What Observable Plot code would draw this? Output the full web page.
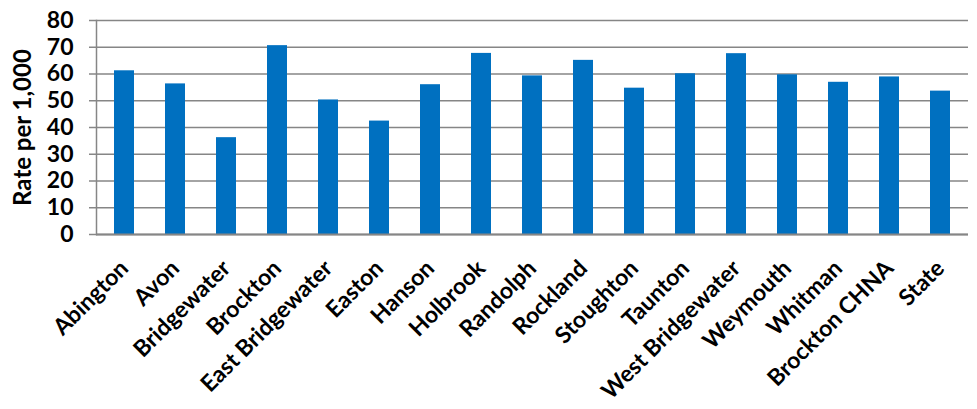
<!DOCTYPE html>
<html>
<head>
<meta charset="utf-8">
<script src="https://cdn.jsdelivr.net/npm/d3@7"></script>
<script src="https://cdn.jsdelivr.net/npm/@observablehq/plot@0.6"></script>
<style>
  html, body { margin: 0; padding: 0; background: #fff; }
  #chart svg { display: block; }
</style>
</head>
<body>
<div id="chart"></div>
<script>
const categories = ["Abington", "Avon", "Bridgewater", "Brockton", "East Bridgewater", "Easton", "Hanson", "Holbrook", "Randolph", "Rockland", "Stoughton", "Taunton", "West Bridgewater", "Weymouth", "Whitman", "Brockton CHNA", "State"];
const values = [61.2, 56.3, 36.2, 70.6, 50.3, 42.4, 56.0, 67.7, 59.3, 65.1, 54.7, 60.1, 67.6, 59.7, 56.9, 58.9, 53.6];
const yTicks = [0, 10, 20, 30, 40, 50, 60, 70, 80];
const yLabel = "Rate per 1,000";

const data = categories.map((c, i) => ({name: c, value: values[i]}));
const font = "Lato, 'Open Sans', sans-serif";

const chart = Plot.plot({
  width: 977,
  height: 409,
  marginLeft: 96,
  marginRight: 9,
  marginTop: 20,
  marginBottom: 175,
  style: {fontFamily: font, fontWeight: "bold", color: "#000", background: "#fff"},
  x: {domain: categories, paddingInner: 0.61, paddingOuter: 0.305, label: null},
  y: {domain: [0, 80], label: null},
  marks: [
    Plot.gridY(yTicks, {stroke: "#868686", strokeOpacity: 1, strokeWidth: 1.5}),
    Plot.barY(data, {x: "name", y: "value", fill: "#0070C0"}),
    Plot.ruleY([0], {stroke: "#868686", strokeWidth: 2}),
    Plot.frame({anchor: "left", stroke: "#868686", strokeWidth: 1.5}),
    Plot.axisY(yTicks, {tickSize: 7, stroke: "#868686", strokeWidth: 1.5, tickPadding: 16, fontSize: 23, fontWeight: "bold", fill: "#000", label: null}),
    Plot.axisX({tickSize: 0, tickRotate: -45, tickPadding: 30, fontSize: 23, fontWeight: "bold", fill: "#000", label: null}),
    Plot.text([yLabel], {frameAnchor: "left", textAnchor: "middle", rotate: -90, dx: -73, fontSize: 24, fontWeight: "bold", fill: "#000"})
  ]
});
document.getElementById("chart").appendChild(chart);
</script>
</body>
</html>
